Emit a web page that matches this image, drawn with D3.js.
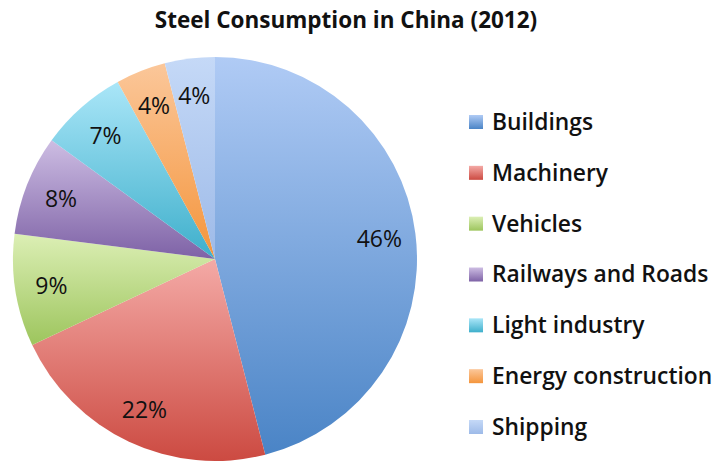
<!DOCTYPE html>
<html><head><meta charset="utf-8">
<script src="https://cdn.jsdelivr.net/npm/d3@7"></script>
<style>body{margin:0;background:#fff}svg{display:block}</style>
</head><body>
<script>
const categories = ["Buildings","Machinery","Vehicles","Railways and Roads","Light industry","Energy construction","Shipping"];
const values = [46,22,9,8,7,4,4];
const labels = ["46%","22%","9%","8%","7%","4%","4%"];
const topColors = ["#b0cbf5","#f4aaa6","#dcefb5","#cdbde3","#aae6f8","#fbc79a","#c5d9f7"];
const bottomColors = ["#4a84c6","#cc4a41","#9dc55d","#7e62a6","#3eafcb","#f4953c","#9dbae8"];

const W=714,H=463;
const svg=d3.select("body").append("svg").attr("width",W).attr("height",H);
const font="'Open Sans', Lato, sans-serif";
svg.append("text").attr("x",346).attr("y",28).attr("text-anchor","middle")
  .attr("font-family",font).attr("font-weight","bold").attr("font-size",22.5).attr("fill","#111")
  .text("Steel Consumption in China (2012)");

const cx=215,cy=259,r=202;
const defs=svg.append("defs");
categories.forEach((c,i)=>{
  const g=defs.append("linearGradient").attr("id","g"+i).attr("x1",0).attr("y1",0).attr("x2",0).attr("y2",1);
  g.append("stop").attr("offset","0%").attr("stop-color",topColors[i]);
  g.append("stop").attr("offset","100%").attr("stop-color",bottomColors[i]);
});
const pie=d3.pie().sort(null).value(d=>d)(values);
const arc=d3.arc().innerRadius(0).outerRadius(r);
const lab=d3.arc().innerRadius(r*0.82).outerRadius(r*0.82);
const g=svg.append("g").attr("transform",`translate(${cx},${cy})`);
g.selectAll("path").data(pie).join("path").attr("d",arc).attr("fill",(d,i)=>`url(#g${i})`);
g.selectAll("text").data(pie).join("text")
  .attr("transform",d=>`translate(${lab.centroid(d)})`)
  .attr("text-anchor","middle").attr("dy","0.4em")
  .attr("font-family",font).attr("font-size",23).attr("fill","#111")
  .text((d,i)=>labels[i]);

const y=d3.scalePoint().domain(categories).range([122,427]);
const lg=svg.append("g");
const items=lg.selectAll("g").data(categories).join("g").attr("transform",d=>`translate(469,${y(d)})`);
items.append("rect").attr("x",0).attr("y",-7).attr("width",14).attr("height",14).attr("fill",(d,i)=>`url(#g${i})`);
items.append("text").attr("x",23).attr("dy","0.35em").attr("font-family",font).attr("font-size",22.8)
  .attr("fill","#111").attr("font-weight",600).text(d=>d);
</script>
</body></html>
